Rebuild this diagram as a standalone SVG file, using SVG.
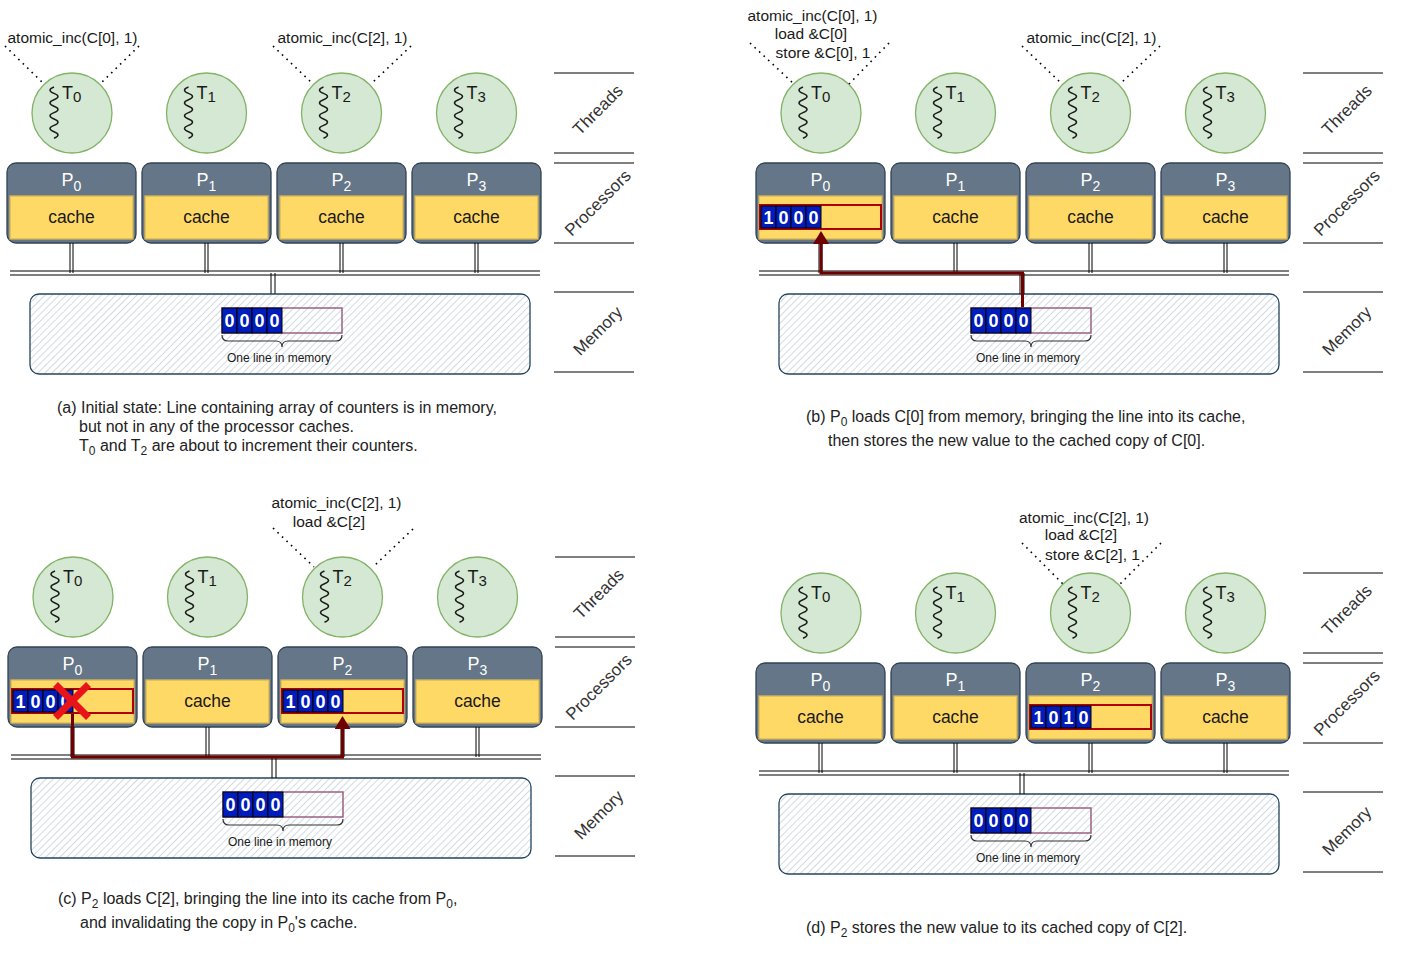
<svg xmlns="http://www.w3.org/2000/svg" width="1401" height="954" viewBox="0 0 1401 954">
<style>
text{font-family:"Liberation Sans",Arial,sans-serif}
.thr{fill:#d5e8d4;stroke:#82b366;stroke-width:1.3}
.sq{fill:none;stroke:#1a1a1a;stroke-width:1.5}
.tl{font-size:18px;fill:#1a1a1a}
.proc{fill:#647687;stroke:#314354;stroke-width:1.3}
.pl{font-size:18px;fill:#fff;text-anchor:middle}
.cache{fill:#FFD966;stroke:#d6b656;stroke-width:1.3}
.ct{font-size:17.5px;fill:#1a1a1a;text-anchor:middle}
.bus{stroke:#000;stroke-width:1;fill:none}
.mem{fill:url(#hatch);stroke:#23445d;stroke-width:1.3}
.mline{fill:none;stroke:#996185;stroke-width:1.5}
.cline{fill:#FFD966;stroke:#B20000;stroke-width:2}
.cell{fill:#001DBC;stroke:#000;stroke-width:1}
.dig{font-size:18px;font-weight:bold;fill:#fff;text-anchor:middle}
.brace{fill:none;stroke:#333;stroke-width:1.2}
.small{font-size:12px;fill:#1a1a1a;text-anchor:middle}
.sep{stroke:#000;stroke-width:1}
.lbl{font-size:17px;fill:#333;text-anchor:middle;dominant-baseline:central}
.ann{font-size:15.5px;fill:#1a1a1a;text-anchor:middle}
.dot{stroke:#000;stroke-width:1.6;stroke-dasharray:1.6 4.6;fill:none}
.cap{font-size:16px;fill:#222}
.arr{fill:none;stroke:#6F0000;stroke-width:3}
.x{stroke:#e8141a;stroke-width:7;fill:none}
</style>
<defs>
<pattern id="hatch" patternUnits="userSpaceOnUse" width="5" height="5" patternTransform="rotate(45)"><rect width="5" height="5" fill="#fff"/><line x1="0" y1="0" x2="0" y2="5" stroke="#bac8d3" stroke-width="1.3"/></pattern>
<marker id="arrow" viewBox="0 0 13 16" refX="10" refY="8" markerWidth="13" markerHeight="16" markerUnits="userSpaceOnUse" orient="auto"><path d="M0,0 L13,8 L0,16 z" fill="#6F0000"/></marker>
<g id="thread"><circle class="thr" r="40"/><path class="sq" d="M-18,-26 q-8,3.2 0,6.4 q8,3.2 0,6.4 q-8,3.2 0,6.4 q8,3.2 0,6.4 q-8,3.2 0,6.4 q8,3.2 0,6.4 q-8,3.2 0,6.4 q8,3.2 0,6.4"/></g>
<g id="memory"><rect class="mem" x="30" y="294" width="500" height="80" rx="9"/><rect class="mline" x="222" y="308" width="120" height="25"/><rect class="cell" x="222" y="308" width="15" height="25"/><rect class="cell" x="237" y="308" width="15" height="25"/><rect class="cell" x="252" y="308" width="15" height="25"/><rect class="cell" x="267" y="308" width="15" height="25"/><text class="dig" x="229.5" y="327">0</text><text class="dig" x="244.5" y="327">0</text><text class="dig" x="259.5" y="327">0</text><text class="dig" x="274.5" y="327">0</text><path class="brace" d="M222,335 q0,6 6,6 h48 q6,0 6,6 q0,-6 6,-6 h48 q6,0 6,-6"/><text class="small" x="279" y="362">One line in memory</text></g>
<g id="labels"><path class="sep" d="M554,73 H634 M554,153 H634 M554,163 H634 M554,243 H634 M554,292 H634 M554,372 H634"/><text class="lbl" transform="translate(598,110) rotate(-45)">Threads</text><text class="lbl" transform="translate(598,203) rotate(-45)">Processors</text><text class="lbl" transform="translate(598,331) rotate(-45)">Memory</text></g>
<g id="bus"><path class="bus" d="M10,271 H540 M10,275 H540 M70,243 V273 M73,243 V273 M205,243 V273 M208,243 V273 M340,243 V273 M343,243 V273 M475,243 V273 M478,243 V273 M271,273 V294 M275,273 V294"/></g>
</defs>

<!-- Panel (a) -->
<g id="panel-a">
<g id="a-T0"><use href="#thread" x="72" y="113"/><text class="tl" x="62" y="99">T<tspan dy="3" font-size="15">0</tspan></text></g>
<g id="a-T1"><use href="#thread" x="206.5" y="113"/><text class="tl" x="196.5" y="99">T<tspan dy="3" font-size="15">1</tspan></text></g>
<g id="a-T2"><use href="#thread" x="341.5" y="113"/><text class="tl" x="331.5" y="99">T<tspan dy="3" font-size="15">2</tspan></text></g>
<g id="a-T3"><use href="#thread" x="476.5" y="113"/><text class="tl" x="466.5" y="99">T<tspan dy="3" font-size="15">3</tspan></text></g>
<g id="a-P0"><rect class="proc" x="7" y="163" width="129" height="80" rx="9"/><text class="pl" x="71.5" y="186">P<tspan dy="5" font-size="14">0</tspan></text><rect class="cache" x="10" y="196" width="123" height="43"/><text class="ct" x="71.5" y="223">cache</text></g>
<g id="a-P1"><rect class="proc" x="142" y="163" width="129" height="80" rx="9"/><text class="pl" x="206.5" y="186">P<tspan dy="5" font-size="14">1</tspan></text><rect class="cache" x="145" y="196" width="123" height="43"/><text class="ct" x="206.5" y="223">cache</text></g>
<g id="a-P2"><rect class="proc" x="277" y="163" width="129" height="80" rx="9"/><text class="pl" x="341.5" y="186">P<tspan dy="5" font-size="14">2</tspan></text><rect class="cache" x="280" y="196" width="123" height="43"/><text class="ct" x="341.5" y="223">cache</text></g>
<g id="a-P3"><rect class="proc" x="412" y="163" width="129" height="80" rx="9"/><text class="pl" x="476.5" y="186">P<tspan dy="5" font-size="14">3</tspan></text><rect class="cache" x="415" y="196" width="123" height="43"/><text class="ct" x="476.5" y="223">cache</text></g>
<g id="a-connectors"><use href="#bus"/></g>
<g id="a-mem"><use href="#memory"/></g>
<g id="a-labels"><use href="#labels"/></g>
</g>

<!-- Panel (b) -->
<g id="panel-b" transform="translate(749,0)">
<g id="b-T0"><use href="#thread" x="72" y="113"/><text class="tl" x="62" y="99">T<tspan dy="3" font-size="15">0</tspan></text></g>
<g id="b-T1"><use href="#thread" x="206.5" y="113"/><text class="tl" x="196.5" y="99">T<tspan dy="3" font-size="15">1</tspan></text></g>
<g id="b-T2"><use href="#thread" x="341.5" y="113"/><text class="tl" x="331.5" y="99">T<tspan dy="3" font-size="15">2</tspan></text></g>
<g id="b-T3"><use href="#thread" x="476.5" y="113"/><text class="tl" x="466.5" y="99">T<tspan dy="3" font-size="15">3</tspan></text></g>
<g id="b-P0"><rect class="proc" x="7" y="163" width="129" height="80" rx="9"/><text class="pl" x="71.5" y="186">P<tspan dy="5" font-size="14">0</tspan></text><rect class="cache" x="10" y="196" width="123" height="43"/><rect class="cline" x="11" y="205" width="121" height="24"/><rect class="cell" x="12" y="206" width="15" height="22"/><rect class="cell" x="27" y="206" width="15" height="22"/><rect class="cell" x="42" y="206" width="15" height="22"/><rect class="cell" x="57" y="206" width="15" height="22"/><text class="dig" x="19.5" y="224">1</text><text class="dig" x="34.5" y="224">0</text><text class="dig" x="49.5" y="224">0</text><text class="dig" x="64.5" y="224">0</text></g>
<g id="b-P1"><rect class="proc" x="142" y="163" width="129" height="80" rx="9"/><text class="pl" x="206.5" y="186">P<tspan dy="5" font-size="14">1</tspan></text><rect class="cache" x="145" y="196" width="123" height="43"/><text class="ct" x="206.5" y="223">cache</text></g>
<g id="b-P2"><rect class="proc" x="277" y="163" width="129" height="80" rx="9"/><text class="pl" x="341.5" y="186">P<tspan dy="5" font-size="14">2</tspan></text><rect class="cache" x="280" y="196" width="123" height="43"/><text class="ct" x="341.5" y="223">cache</text></g>
<g id="b-P3"><rect class="proc" x="412" y="163" width="129" height="80" rx="9"/><text class="pl" x="476.5" y="186">P<tspan dy="5" font-size="14">3</tspan></text><rect class="cache" x="415" y="196" width="123" height="43"/><text class="ct" x="476.5" y="223">cache</text></g>
<g id="b-mem"><use href="#memory"/></g>
<g id="b-connectors"><use href="#bus"/><path class="arr" d="M273.5,307 V273 H72 V234" marker-end="url(#arrow)"/></g>
<g id="b-labels"><use href="#labels"/></g>
</g>

<!-- Panel (c) -->
<g id="panel-c" transform="translate(1,484)">
<g id="c-T0"><use href="#thread" x="72" y="113"/><text class="tl" x="62" y="99">T<tspan dy="3" font-size="15">0</tspan></text></g>
<g id="c-T1"><use href="#thread" x="206.5" y="113"/><text class="tl" x="196.5" y="99">T<tspan dy="3" font-size="15">1</tspan></text></g>
<g id="c-T2"><use href="#thread" x="341.5" y="113"/><text class="tl" x="331.5" y="99">T<tspan dy="3" font-size="15">2</tspan></text></g>
<g id="c-T3"><use href="#thread" x="476.5" y="113"/><text class="tl" x="466.5" y="99">T<tspan dy="3" font-size="15">3</tspan></text></g>
<g id="c-P0"><rect class="proc" x="7" y="163" width="129" height="80" rx="9"/><text class="pl" x="71.5" y="186">P<tspan dy="5" font-size="14">0</tspan></text><rect class="cache" x="10" y="196" width="123" height="43"/><rect class="cline" x="11" y="205" width="121" height="24"/><rect class="cell" x="12" y="206" width="15" height="22"/><rect class="cell" x="27" y="206" width="15" height="22"/><rect class="cell" x="42" y="206" width="15" height="22"/><rect class="cell" x="57" y="206" width="15" height="22"/><text class="dig" x="19.5" y="224">1</text><text class="dig" x="34.5" y="224">0</text><text class="dig" x="49.5" y="224">0</text><text class="dig" x="64.5" y="224">0</text></g>
<g id="c-P1"><rect class="proc" x="142" y="163" width="129" height="80" rx="9"/><text class="pl" x="206.5" y="186">P<tspan dy="5" font-size="14">1</tspan></text><rect class="cache" x="145" y="196" width="123" height="43"/><text class="ct" x="206.5" y="223">cache</text></g>
<g id="c-P2"><rect class="proc" x="277" y="163" width="129" height="80" rx="9"/><text class="pl" x="341.5" y="186">P<tspan dy="5" font-size="14">2</tspan></text><rect class="cache" x="280" y="196" width="123" height="43"/><rect class="cline" x="281" y="205" width="121" height="24"/><rect class="cell" x="282" y="206" width="15" height="22"/><rect class="cell" x="297" y="206" width="15" height="22"/><rect class="cell" x="312" y="206" width="15" height="22"/><rect class="cell" x="327" y="206" width="15" height="22"/><text class="dig" x="289.5" y="224">1</text><text class="dig" x="304.5" y="224">0</text><text class="dig" x="319.5" y="224">0</text><text class="dig" x="334.5" y="224">0</text></g>
<g id="c-P3"><rect class="proc" x="412" y="163" width="129" height="80" rx="9"/><text class="pl" x="476.5" y="186">P<tspan dy="5" font-size="14">3</tspan></text><rect class="cache" x="415" y="196" width="123" height="43"/><text class="ct" x="476.5" y="223">cache</text></g>
<g id="c-mem"><use href="#memory"/></g>
<g id="c-connectors"><use href="#bus"/><path class="arr" d="M71.5,230 V273 H341.5 V235" marker-end="url(#arrow)"/></g>
<g id="c-invalid"><path class="x" d="M54.5,200.5 L87.5,233.5 M87.5,200.5 L54.5,233.5"/></g>
<g id="c-labels"><use href="#labels"/></g>
</g>

<!-- Panel (d) -->
<g id="panel-d" transform="translate(749,500)">
<g id="d-T0"><use href="#thread" x="72" y="113"/><text class="tl" x="62" y="99">T<tspan dy="3" font-size="15">0</tspan></text></g>
<g id="d-T1"><use href="#thread" x="206.5" y="113"/><text class="tl" x="196.5" y="99">T<tspan dy="3" font-size="15">1</tspan></text></g>
<g id="d-T2"><use href="#thread" x="341.5" y="113"/><text class="tl" x="331.5" y="99">T<tspan dy="3" font-size="15">2</tspan></text></g>
<g id="d-T3"><use href="#thread" x="476.5" y="113"/><text class="tl" x="466.5" y="99">T<tspan dy="3" font-size="15">3</tspan></text></g>
<g id="d-P0"><rect class="proc" x="7" y="163" width="129" height="80" rx="9"/><text class="pl" x="71.5" y="186">P<tspan dy="5" font-size="14">0</tspan></text><rect class="cache" x="10" y="196" width="123" height="43"/><text class="ct" x="71.5" y="223">cache</text></g>
<g id="d-P1"><rect class="proc" x="142" y="163" width="129" height="80" rx="9"/><text class="pl" x="206.5" y="186">P<tspan dy="5" font-size="14">1</tspan></text><rect class="cache" x="145" y="196" width="123" height="43"/><text class="ct" x="206.5" y="223">cache</text></g>
<g id="d-P2"><rect class="proc" x="277" y="163" width="129" height="80" rx="9"/><text class="pl" x="341.5" y="186">P<tspan dy="5" font-size="14">2</tspan></text><rect class="cache" x="280" y="196" width="123" height="43"/><rect class="cline" x="281" y="205" width="121" height="24"/><rect class="cell" x="282" y="206" width="15" height="22"/><rect class="cell" x="297" y="206" width="15" height="22"/><rect class="cell" x="312" y="206" width="15" height="22"/><rect class="cell" x="327" y="206" width="15" height="22"/><text class="dig" x="289.5" y="224">1</text><text class="dig" x="304.5" y="224">0</text><text class="dig" x="319.5" y="224">1</text><text class="dig" x="334.5" y="224">0</text></g>
<g id="d-P3"><rect class="proc" x="412" y="163" width="129" height="80" rx="9"/><text class="pl" x="476.5" y="186">P<tspan dy="5" font-size="14">3</tspan></text><rect class="cache" x="415" y="196" width="123" height="43"/><text class="ct" x="476.5" y="223">cache</text></g>
<g id="d-mem"><use href="#memory"/></g>
<g id="d-connectors"><use href="#bus"/></g>
<g id="d-labels"><use href="#labels"/></g>
</g>

<!-- Annotations -->
<g id="annotations">
<text class="ann" x="72.5" y="43">atomic_inc(C[0], 1)</text>
<text class="ann" x="342.5" y="43">atomic_inc(C[2], 1)</text>
<path class="dot" d="M5,46 L44,84 M139,46 L100,84 M273,46 L313,84 M411,46 L371,84"/>
<text class="ann" x="812.5" y="21">atomic_inc(C[0], 1)</text>
<text class="ann" x="811" y="39">load &amp;C[0]</text>
<text class="ann" x="823" y="58">store &amp;C[0], 1</text>
<text class="ann" x="1091.5" y="43">atomic_inc(C[2], 1)</text>
<path class="dot" d="M750,43 L794,84 M889,43 L849,84 M1022,46 L1062,84 M1160,46 L1120,84"/>
<text class="ann" x="336.5" y="508">atomic_inc(C[2], 1)</text>
<text class="ann" x="329" y="527">load &amp;C[2]</text>
<path class="dot" d="M273,528 L314,567 M413,529 L373,567"/>
<text class="ann" x="1084" y="523">atomic_inc(C[2], 1)</text>
<text class="ann" x="1081" y="540">load &amp;C[2]</text>
<text class="ann" x="1092.5" y="560">store &amp;C[2], 1</text>
<path class="dot" d="M1022,543 L1063,584 M1161,543 L1120,584"/>
</g>

<!-- Captions -->
<g id="captions">
<text class="cap" x="57" y="413">(a) Initial state: Line containing array of counters is in memory,</text>
<text class="cap" x="79" y="432">but not in any of the processor caches.</text>
<text class="cap" x="79" y="451">T<tspan dy="4" font-size="12">0</tspan><tspan dy="-4"> and T</tspan><tspan dy="4" font-size="12">2</tspan><tspan dy="-4"> are about to increment their counters.</tspan></text>
<text class="cap" x="806" y="422">(b) P<tspan dy="4" font-size="12">0</tspan><tspan dy="-4"> loads C[0] from memory, bringing the line into its cache,</tspan></text>
<text class="cap" x="828" y="446">then stores the new value to the cached copy of C[0].</text>
<text class="cap" x="58" y="904">(c) P<tspan dy="4" font-size="12">2</tspan><tspan dy="-4"> loads C[2], bringing the line into its cache from P</tspan><tspan dy="4" font-size="12">0</tspan><tspan dy="-4">,</tspan></text>
<text class="cap" x="80" y="928">and invalidating the copy in P<tspan dy="4" font-size="12">0</tspan><tspan dy="-4">'s cache.</tspan></text>
<text class="cap" x="806" y="933">(d) P<tspan dy="4" font-size="12">2</tspan><tspan dy="-4"> stores the new value to its cached copy of C[2].</tspan></text>
</g>
</svg>
